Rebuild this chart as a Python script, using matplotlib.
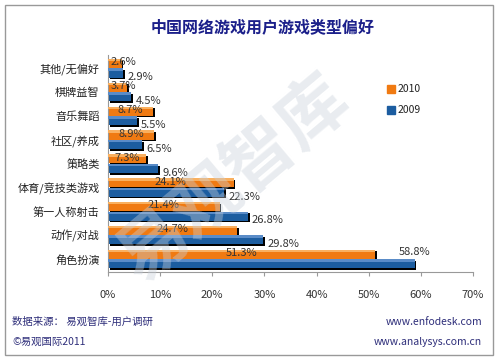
import numpy as np
import matplotlib.pyplot as plt
from matplotlib.patches import Rectangle

plt.rcParams['font.family'] = ['Noto Sans CJK SC', 'DejaVu Sans']

categories = ['其他/无偏好', '棋牌益智', '音乐舞蹈', '社区/养成', '策略类',
              '体育/竞技类游戏', '第一人称射击', '动作/对战', '角色扮演']
y2010 = [2.6, 3.7, 8.7, 8.9, 7.3, 24.1, 21.4, 24.7, 51.3]
y2009 = [2.9, 4.5, 5.5, 6.5, 9.6, 22.3, 26.8, 29.8, 58.8]
xticks = [0, 10, 20, 30, 40, 50, 60, 70]

orange = '#f07a12'
blue = '#1c5da0'

fig = plt.figure(figsize=(5, 3.6), dpi=100)
ax = fig.add_axes([0.216, 0.244, 0.73, 0.603])

pos = np.arange(len(categories))
h = 0.38

# shadows first
ax.barh(pos - 0.2 + 0.07, y2010, height=h, left=0.35, color='black', zorder=1)
ax.barh(pos + 0.2 + 0.07, y2009, height=h, left=0.35, color='black', zorder=1)
ax.barh(pos - 0.2, y2010, height=h, color=orange, zorder=2)
ax.barh(pos + 0.2, y2009, height=h, color=blue, zorder=2)
# light top strips
ax.barh(pos - 0.2 - h / 2 + 0.05, y2010, height=0.1, color='#f9b060', zorder=3)
ax.barh(pos + 0.2 - h / 2 + 0.05, y2009, height=0.1, color='#5a8cc8', zorder=3)

for i, (a, b) in enumerate(zip(y2010, y2009)):
    ax.text(max(a / 2, 3.0), i - 0.25, f'{a}%', ha='center', va='center',
            fontsize=8, color='#333333', zorder=5)
    if b > 50:
        # long bar: label sits above its end
        ax.text(b, i - 0.3, f'{b}%', ha='center', va='center',
                fontsize=8, color='#333333', zorder=5)
    else:
        ax.text(b + 0.8, i + 0.38, f'{b}%', ha='left', va='center',
                fontsize=8, color='#333333', zorder=5)

ax.set_xlim(0, 70)
ax.set_ylim(len(categories) - 0.45, -0.55)
ax.set_xticks(xticks)
ax.set_xticklabels([f'{t}%' for t in xticks], fontsize=8, color='#333333')
ax.set_yticks(pos)
ax.set_yticklabels(categories, fontsize=8, color='#222222')
ax.tick_params(axis='y', length=0, pad=6)
ax.tick_params(axis='x', length=3, color='#999999', pad=10)
for s in ['top', 'right']:
    ax.spines[s].set_visible(False)
for s in ['left', 'bottom']:
    ax.spines[s].set_color('#999999')
    ax.spines[s].set_linewidth(0.8)

# outer frame
fig.patches.append(Rectangle((0.01, 0.014), 0.976, 0.972, transform=fig.transFigure,
                             fill=False, edgecolor='#999999', linewidth=1))

fig.text(0.525, 0.925, '中国网络游戏用户游戏类型偏好', ha='center', va='center',
         fontsize=11.5, fontweight='bold', color='#1b1f8a')

# legend
fig.patches.append(Rectangle((0.774, 0.742), 0.016, 0.022, transform=fig.transFigure,
                             color=orange))
fig.text(0.795, 0.753, '2010', fontsize=7.5, va='center', color='#222222')
fig.patches.append(Rectangle((0.774, 0.683), 0.016, 0.022, transform=fig.transFigure,
                             color=blue))
fig.text(0.795, 0.694, '2009', fontsize=7.5, va='center', color='#222222')

# watermark
fig.text(0.47, 0.5, '易观智库', fontsize=50, fontweight='bold', color='#c8d0da',
         alpha=0.4, rotation=40, ha='center', va='center', zorder=10)

# footer
fig.text(0.024, 0.105, '数据来源： 易观智库-用户调研', fontsize=7.5, color='#2e2e7a',
         va='center')
fig.text(0.024, 0.05, '©易观国际2011', fontsize=7.5, color='#2e2e7a', va='center')
fig.text(0.964, 0.105, 'www.enfodesk.com', fontsize=7.5, color='#2e2e7a',
         va='center', ha='right')
fig.text(0.964, 0.05, 'www.analysys.com.cn', fontsize=7.5, color='#2e2e7a',
         va='center', ha='right')

fig.savefig('out.png', dpi=100)
